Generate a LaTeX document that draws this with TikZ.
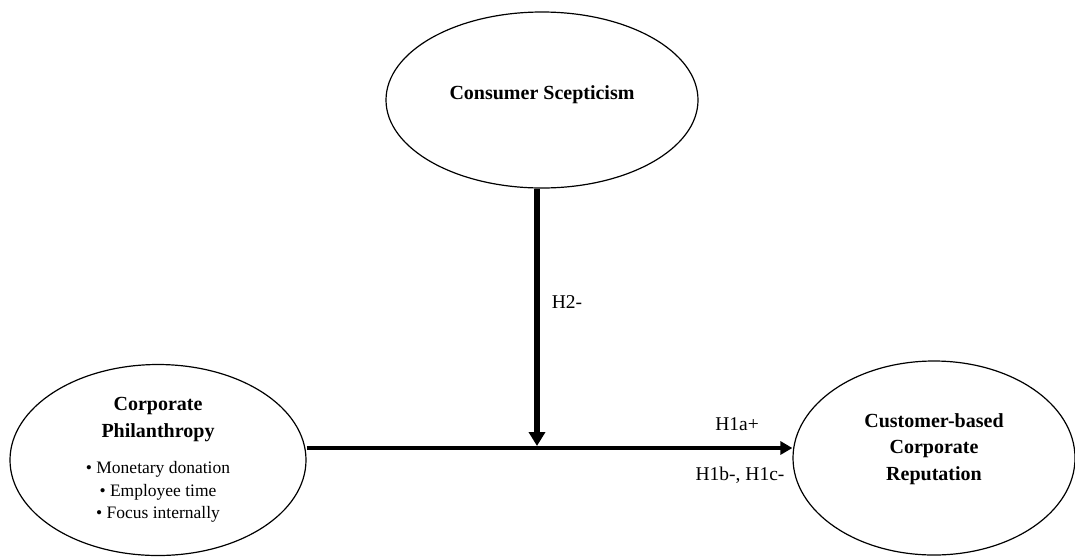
\documentclass[tikz,border=0pt]{standalone}
\usepackage{fontspec}
\setmainfont{Liberation Serif}
\usetikzlibrary{shapes.geometric,arrows.meta}
\tikzset{
  construct/.style={ellipse, draw, line width=1.2pt, inner sep=0pt, align=center,
    font=\fontsize{20}{26.5}\selectfont\bfseries},
  hyp/.style={font=\fontsize{19.5}{23}\selectfont},
  path/.style={line width=4.5pt, -{Triangle[length=12pt,width=13pt]}},
}
\newcommand{\itemline}[1]{{\fontsize{17.5}{23}\selectfont\mdseries\textbullet\ #1}}
\begin{document}
\begin{tikzpicture}[x=1pt,y=-1pt]
  \useasboundingbox (0,0) rectangle (1075,558);
  % constructs
  \node[construct, minimum width=312pt, minimum height=176pt] (cs) at (542,100) {Consumer Scepticism\\[-12pt]\phantom{x}};
  \node[construct, minimum width=296pt, minimum height=191pt] (cp) at (158,460)
    {Corporate\\Philanthropy\\[10pt]\itemline{Monetary donation}\\[-4pt]\itemline{Employee time}\\[-4pt]\itemline{Focus internally}};
  \node[construct, minimum width=282pt, minimum height=194pt] (crp) at (934,458)
    {Customer-based\\Corporate\\Reputation\\[-4pt]\phantom{x}};
  \coordinate (meet) at (537,448);
  % paths
  \draw[path] (cp.east |- meet) -- (crp.west |- meet);
  \draw[path, line width=6.5pt, -{Triangle[length=14pt,width=16pt]}, shorten >=2pt] (meet |- cs.south) -- (meet);
  % hypotheses
  \node[hyp] (h2) at (567,302) {H2-};
  \node[hyp] (h1a) at (737,424) {H1a+};
  \node[hyp] (h1bc) at (740,475) {H1b-, H1c-};
\end{tikzpicture}
\end{document}
